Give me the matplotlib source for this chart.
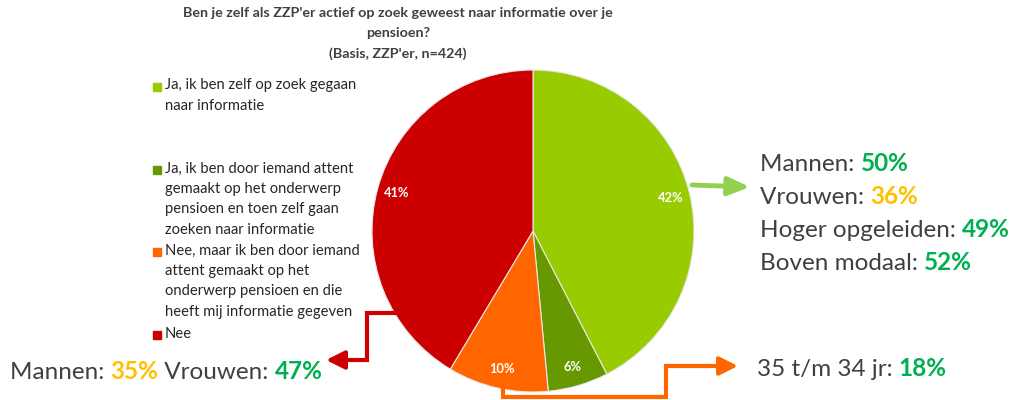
import matplotlib
matplotlib.use("Agg")
import matplotlib.pyplot as plt
from matplotlib.patches import FancyArrowPatch

plt.rcParams['font.family'] = ['Lato', 'DejaVu Sans']

# ---- data ----
categories = [
    "Ja, ik ben zelf op zoek gegaan\nnaar informatie",
    "Ja, ik ben door iemand attent\ngemaakt op het onderwerp\npensioen en toen zelf gaan\nzoeken naar informatie",
    "Nee, maar ik ben door iemand\nattent gemaakt op het\nonderwerp pensioen en die\nheeft mij informatie gegeven",
    "Nee",
]
values = [42, 6, 10, 41]
colors = ["#99CC00", "#669900", "#FF6600", "#CC0000"]

title = "Ben je zelf als ZZP'er actief op zoek geweest naar informatie over je\npensioen?\n(Basis, ZZP'er, n=424)"

green_labels = ["Mannen: ", "Vrouwen: ", "Hoger opgeleiden: ", "Boven modaal: "]
green_values = ["50%", "36%", "49%", "52%"]
green_value_colors = ["#00B050", "#FFC000", "#00B050", "#00B050"]

orange_label = ["35 t/m 34 jr: "]
orange_value = ["18%"]

red_labels = ["Mannen: ", "Vrouwen: "]
red_values = ["35%", "47%"]
red_value_colors = ["#FFC000", "#00B050"]

GRAY = "#404040"
W, H = 1014, 400

fig = plt.figure(figsize=(W / 100, H / 100), dpi=100)
ax = fig.add_axes([0, 0, 1, 1])

def Y(py):
    return H - py

# pie
cx, cy, r = 533, 231, 161
wedges, _, autotexts = ax.pie(
    values, colors=colors, startangle=90, counterclock=False,
    center=(cx, Y(cy)), radius=r, frame=True,
    autopct=lambda p: f"{p:.0f}%", pctdistance=0.88,
    wedgeprops=dict(edgecolor="#e8e8e8", linewidth=0.8),
    textprops=dict(color="white", fontsize=9.3, fontweight="bold"))
for t, v in zip(autotexts, values):
    t.set_text(f"{v}%")
ax.set_xlim(0, W)
ax.set_ylim(0, H)
ax.set_aspect('equal')
ax.axis('off')

# title
ax.text(398, Y(7), title, ha='center', va='top', fontsize=10.3, fontweight='bold',
        color=GRAY, linespacing=1.78)

# legend
legend_y = [87, 170, 252, 335]
for lab, col, ly in zip(categories, colors, legend_y):
    ax.add_patch(plt.Rectangle((153, Y(ly) - 4), 8, 8, color=col))
    ax.text(165, Y(ly) + 8.5, lab, ha='left', va='top', fontsize=10.6, color="#262626",
            linespacing=1.58)

def chain(x, py, parts, cols, fs):
    prev = ax.text(x, Y(py), parts[0], ha='left', va='baseline', fontsize=fs, color=cols[0])
    for p, c in zip(parts[1:], cols[1:]):
        prev = ax.annotate(p, xy=(1, 0), xycoords=prev, xytext=(0, 0), textcoords='offset points',
                           ha='left', va='bottom', fontsize=fs, color=c,
                           fontweight='bold' if '%' in p else 'normal')
    return prev

fs_big = 17.5
for i, (lab, val, vc) in enumerate(zip(green_labels, green_values, green_value_colors)):
    chain(760, 171 + i * 33, [lab, val], [GRAY, vc], fs_big)

chain(757, 376, [orange_label[0], orange_value[0]], [GRAY, "#00B050"], fs_big)

parts = [red_labels[0], red_values[0], " " + red_labels[1], red_values[1]]
chain(10, 379, parts, [GRAY, red_value_colors[0], GRAY, red_value_colors[1]], fs_big)

# arrows
ax.add_patch(FancyArrowPatch((692, Y(185)), (750, Y(187)), arrowstyle='-|>,head_length=13,head_width=5.5',
                             color="#92D050", lw=3.5, mutation_scale=1, shrinkA=0, shrinkB=0))

ax.plot([503, 503, 666, 666, 725], [Y(388), Y(397), Y(397), Y(366), Y(366)],
        color="#FF6600", lw=3, solid_joinstyle='miter', solid_capstyle='butt')
ax.add_patch(FancyArrowPatch((720, Y(366)), (738, Y(366)), arrowstyle='-|>,head_length=11,head_width=5.5',
                             color="#FF6600", lw=3, mutation_scale=1, shrinkA=0, shrinkB=0))

ax.plot([398, 367, 367, 340], [Y(313), Y(313), Y(360), Y(360)],
        color="#CC0000", lw=3, solid_joinstyle='miter', solid_capstyle='butt')
ax.add_patch(FancyArrowPatch((345, Y(360)), (326, Y(360)), arrowstyle='-|>,head_length=11,head_width=5.5',
                             color="#CC0000", lw=3, mutation_scale=1, shrinkA=0, shrinkB=0))

fig.savefig("out.png", dpi=100, facecolor="white")
